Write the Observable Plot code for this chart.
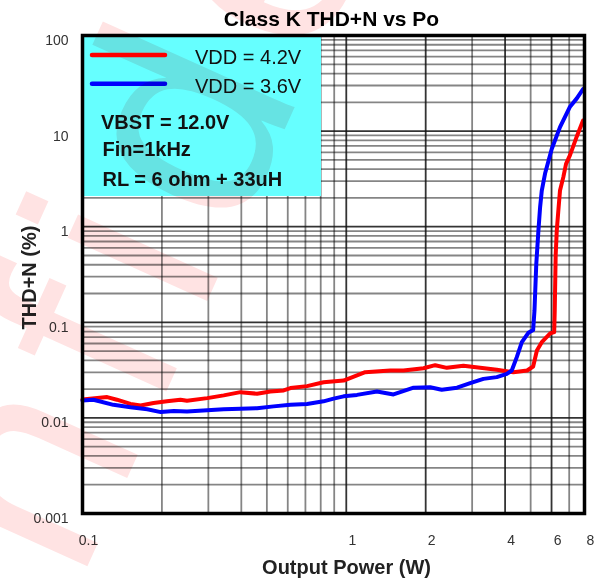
<!DOCTYPE html>
<html>
<head>
<meta charset="utf-8">
<script src="https://cdn.jsdelivr.net/npm/d3@7"></script>
<script src="https://cdn.jsdelivr.net/npm/@observablehq/plot@0.6"></script>
<style>
  html, body { margin: 0; padding: 0; background: #fff; }
  svg { display: block; }
</style>
</head>
<body>
<div id="chart"></div>
<script>
// ---- data ----
const seriesNames = ["VDD = 4.2V", "VDD = 3.6V"];
const seriesColors = ["#ff0000", "#0000ff"];

const redPower = [0.1, 0.124, 0.135, 0.152, 0.166, 0.186, 0.209, 0.235, 0.249, 0.297, 0.343, 0.397, 0.459, 0.515, 0.579, 0.614, 0.71, 0.82, 0.977, 1.098, 1.18, 1.468, 1.648, 1.963, 2.173, 2.406, 2.78, 3.218, 3.72, 4.3, 4.85, 5.11, 5.28, 5.51, 5.93, 6.14, 6.17, 6.22, 6.28, 6.37, 6.46, 6.65, 6.81, 7.05, 7.26, 7.48, 7.9];
const redThd   = [0.0156, 0.0165, 0.0155, 0.0140, 0.0135, 0.0143, 0.0149, 0.0155, 0.0151, 0.0161, 0.0172, 0.0186, 0.0179, 0.0189, 0.0194, 0.0205, 0.0215, 0.0236, 0.0246, 0.0278, 0.0301, 0.0313, 0.0313, 0.0331, 0.0356, 0.0334, 0.0351, 0.0334, 0.0319, 0.0301, 0.0313, 0.0345, 0.0507, 0.0619, 0.0764, 0.079, 0.133, 0.5, 0.91, 1.5, 2.39, 3.3, 4.55, 5.6, 7.0, 8.8, 12.9];

const bluePower = [0.1, 0.110, 0.131, 0.152, 0.176, 0.198, 0.222, 0.249, 0.297, 0.343, 0.397, 0.459, 0.53, 0.614, 0.71, 0.82, 0.895, 0.977, 1.098, 1.307, 1.51, 1.80, 2.08, 2.30, 2.63, 2.95, 3.31, 3.72, 4.06, 4.24, 4.43, 4.63, 4.90, 5.11, 5.17, 5.25, 5.35, 5.43, 5.51, 5.67, 6.01, 6.46, 7.05, 7.48, 7.9];
const blueThd   = [0.0152, 0.0155, 0.0137, 0.0129, 0.0123, 0.0115, 0.0118, 0.0117, 0.0120, 0.0123, 0.0125, 0.0126, 0.0132, 0.0137, 0.0140, 0.0149, 0.0159, 0.0168, 0.0174, 0.0189, 0.0176, 0.0207, 0.0209, 0.0197, 0.0207, 0.0231, 0.0256, 0.0267, 0.0289, 0.0313, 0.0432, 0.0619, 0.0776, 0.083, 0.133, 0.4, 0.91, 1.6, 2.39, 3.6, 6.5, 11, 18, 22, 27.5];

const xTicks = [0.1, 1, 2, 4, 6, 8];
const xTickLabels = ["0.1", "1", "2", "4", "6", "8"];
const yTicks = [0.001, 0.01, 0.1, 1, 10, 100];
const yTickLabels = ["0.001", "0.01", "0.1", "1", "10", "100"];

const xMinorGrid = [0.2, 0.3, 0.4, 0.5, 0.6, 0.7, 0.8, 0.9, 3, 5, 7];
const xMajorGrid = [1, 2, 4, 6];
const yDecades = [0.001, 0.01, 0.1, 1, 10];
const yMinorGrid = yDecades.flatMap(d => [2, 3, 4, 5, 6, 7, 8, 9].map(m => d * m));
const yMajorGrid = [0.01, 0.1, 1, 10];

const title = "Class K THD+N vs Po";
const xLabel = "Output Power (W)";
const yLabel = "THD+N (%)";
const noteLines = ["VBST = 12.0V", "Fin=1kHz", "RL = 6 ohm + 33uH"];
const watermark = "Confidential";

// ---- build tables ----
const rows = [
  ...redPower.map((p, i) => ({series: seriesNames[0], power: p, thd: redThd[i]})),
  ...bluePower.map((p, i) => ({series: seriesNames[1], power: p, thd: blueThd[i]}))
];
const xTickRows = xTicks.map((v, i) => ({v, label: xTickLabels[i]}));
const yTickRows = yTicks.map((v, i) => ({v, label: yTickLabels[i]}));

const font = "'Liberation Sans', Arial, sans-serif";

const svg = Plot.plot({
  width: 605,
  height: 580,
  marginLeft: 82,
  marginRight: 21,
  marginTop: 35,
  marginBottom: 67,
  style: {fontFamily: font, background: "white", overflow: "visible"},
  x: {type: "log", domain: [0.1, 8], axis: null},
  y: {type: "log", domain: [0.001, 100], axis: null},
  color: {domain: seriesNames, range: seriesColors},
  marks: [
    Plot.ruleX(xMinorGrid, {stroke: "#000", strokeOpacity: 0.48, strokeWidth: 1.8}),
    Plot.ruleY(yMinorGrid, {stroke: "#000", strokeOpacity: 0.48, strokeWidth: 1.8}),
    Plot.ruleX(xMajorGrid, {stroke: "#111", strokeOpacity: 0.85, strokeWidth: 1.8}),
    Plot.ruleY(yMajorGrid, {stroke: "#111", strokeOpacity: 0.85, strokeWidth: 1.8}),
    Plot.line(rows, {x: "power", y: "thd", z: "series", stroke: "series", strokeWidth: 4, strokeLinejoin: "round", strokeLinecap: "round"}),
    Plot.frame({stroke: "#000", strokeWidth: 3.5}),
    Plot.text(xTickRows, {x: "v", text: "label", frameAnchor: "bottom", textAnchor: "middle", lineAnchor: "top", dx: 6, dy: 22, fontSize: 14, fill: "#333"}),
    Plot.text(yTickRows, {y: "v", text: "label", frameAnchor: "left", textAnchor: "end", lineAnchor: "middle", dx: -14, dy: 5, fontSize: 14, fill: "#333"}),
    Plot.text([title], {frameAnchor: "top", textAnchor: "middle", lineAnchor: "bottom", dx: -2, dy: -10, fontSize: 21, fontWeight: "bold", fill: "#000"}),
    Plot.text([xLabel], {frameAnchor: "bottom", textAnchor: "middle", lineAnchor: "bottom", dx: 13, dy: 60, fontSize: 20, fontWeight: "bold", fill: "#222"}),
    Plot.text([yLabel], {frameAnchor: "left", textAnchor: "middle", lineAnchor: "bottom", rotate: -90, dx: -47, dy: 3, fontSize: 20, fontWeight: "bold", fill: "#222"})
  ]
});

// ---- legend box (annotation, drawn above the grid, below the curves) ----
const root = d3.select(svg);
const lg = root.insert("g", 'g[aria-label="line"]').attr("font-family", font).attr("text-anchor", "start");
lg.append("rect").attr("x", 82).attr("y", 35).attr("width", 239).attr("height", 161).attr("fill", "#66ffff");
const sampleY = [55, 83.7];
const labelBase = [64, 92.5];
seriesNames.forEach((name, i) => {
  lg.append("line").attr("x1", 92).attr("x2", 165).attr("y1", sampleY[i]).attr("y2", sampleY[i])
    .attr("stroke", seriesColors[i]).attr("stroke-width", 4.5).attr("stroke-linecap", "round");
  lg.append("text").attr("x", 195).attr("y", labelBase[i]).attr("font-size", 20).attr("fill", "#111").text(name);
});
const noteBase = [129, 156, 185.5];
const noteX = [101, 102.5, 102.5];
noteLines.forEach((t, i) => {
  lg.append("text").attr("x", noteX[i]).attr("y", noteBase[i]).attr("font-size", 20).attr("font-weight", "bold").attr("fill", "#111").text(t);
});

// ---- watermark ----
root.append("text")
  .attr("transform", "translate(-94,968) rotate(-65.7)")
  .attr("text-anchor", "start")
  .attr("font-family", font)
  .attr("font-size", 290)
  .attr("letter-spacing", 25)
  .attr("fill", "#ffe3e3")
  .style("mix-blend-mode", "multiply")
  .style("pointer-events", "none")
  .text(watermark);

document.getElementById("chart").appendChild(svg);
</script>
</body>
</html>
